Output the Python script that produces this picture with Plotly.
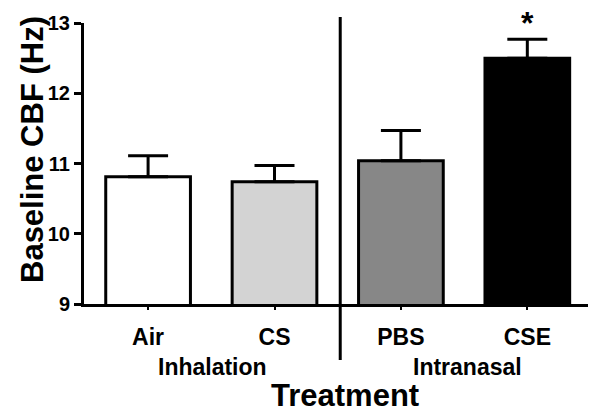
import plotly.graph_objects as go

# Data
treatments = ["Air", "CS", "PBS", "CSE"]
cbf_mean = [10.81, 10.74, 11.04, 12.50]
cbf_sem = [0.30, 0.23, 0.43, 0.27]
bar_colors = ["#ffffff", "#d3d3d3", "#878787", "#000000"]
groups = ["Inhalation", "Intranasal"]
group_centers = [0.51, 2.53]

FONT = "Arial, 'Liberation Sans', Helvetica, sans-serif"
PLOT_H = 417 - 23 - 113


def py(px):
    # pixel row -> paper y coordinate
    return (304 - px) / PLOT_H


fig = go.Figure()
fig.add_trace(go.Bar(
    x=list(range(len(treatments))),
    y=cbf_mean,
    width=0.67,
    marker=dict(color=bar_colors, line=dict(color="black", width=3)),
    error_y=dict(type="data", symmetric=False, array=cbf_sem,
                 arrayminus=[0] * len(cbf_sem),
                 color="black", thickness=3, width=20),
    showlegend=False,
))

# significance marker on CSE
fig.add_annotation(x=3, y=cbf_mean[3] + cbf_sem[3], text="<b>*</b>",
                   showarrow=False, yanchor="bottom", yshift=-4,
                   font=dict(size=32, color="black", family=FONT))

# group labels
for g, c in zip(groups, group_centers):
    fig.add_annotation(x=c, y=py(367), xref="x", yref="paper", text=f"<b>{g}</b>",
                       showarrow=False, xanchor="center", yanchor="middle",
                       font=dict(size=23, color="black", family=FONT))

# axis titles
fig.add_annotation(x=(345 - 84) / 504, y=py(395), xref="paper", yref="paper",
                   text="<b>Treatment</b>", showarrow=False,
                   xanchor="center", yanchor="middle",
                   font=dict(size=31, color="black", family=FONT))
fig.add_annotation(x=(32 - 84) / 504, y=py(150), xref="paper", yref="paper",
                   text="<b>Baseline CBF (Hz)</b>", textangle=-90, showarrow=False,
                   xanchor="center", yanchor="middle",
                   font=dict(size=31, color="black", family=FONT))

# divider between inhalation and intranasal
fig.add_shape(type="line", xref="x", yref="paper", x0=1.52, x1=1.52,
              y0=py(360), y1=py(17), line=dict(color="black", width=3))

fig.update_xaxes(
    range=[-0.507, 3.48], tickvals=list(range(len(treatments))),
    ticktext=[f"<b>{t}</b>" for t in treatments],
    showline=True, linecolor="black", linewidth=3,
    ticks="outside", ticklen=3, tickwidth=2, tickcolor="black",
    ticklabelstandoff=7,
    tickfont=dict(size=23, color="black", family=FONT),
    showgrid=False, zeroline=False,
)
fig.update_yaxes(
    range=[9, 13], dtick=1, tickvals=[9, 10, 11, 12, 13],
    ticktext=["<b>9</b>", "<b>10</b>", "<b>11</b>", "<b>12</b>", "<b>13</b>"],
    showline=True, linecolor="black", linewidth=3,
    ticks="outside", ticklen=7, tickwidth=3, tickcolor="black",
    ticklabelstandoff=0,
    tickfont=dict(size=20, color="black", family=FONT),
    showgrid=False, zeroline=False,
)
fig.update_layout(
    width=600, height=417,
    margin=dict(l=84, r=12, t=23, b=113, autoexpand=False),
    paper_bgcolor="white", plot_bgcolor="white",
    font=dict(family=FONT, color="black"),
)

fig.write_html("out.html", config={"displayModeBar": False},
               post_script="document.body.style.margin='0';")
